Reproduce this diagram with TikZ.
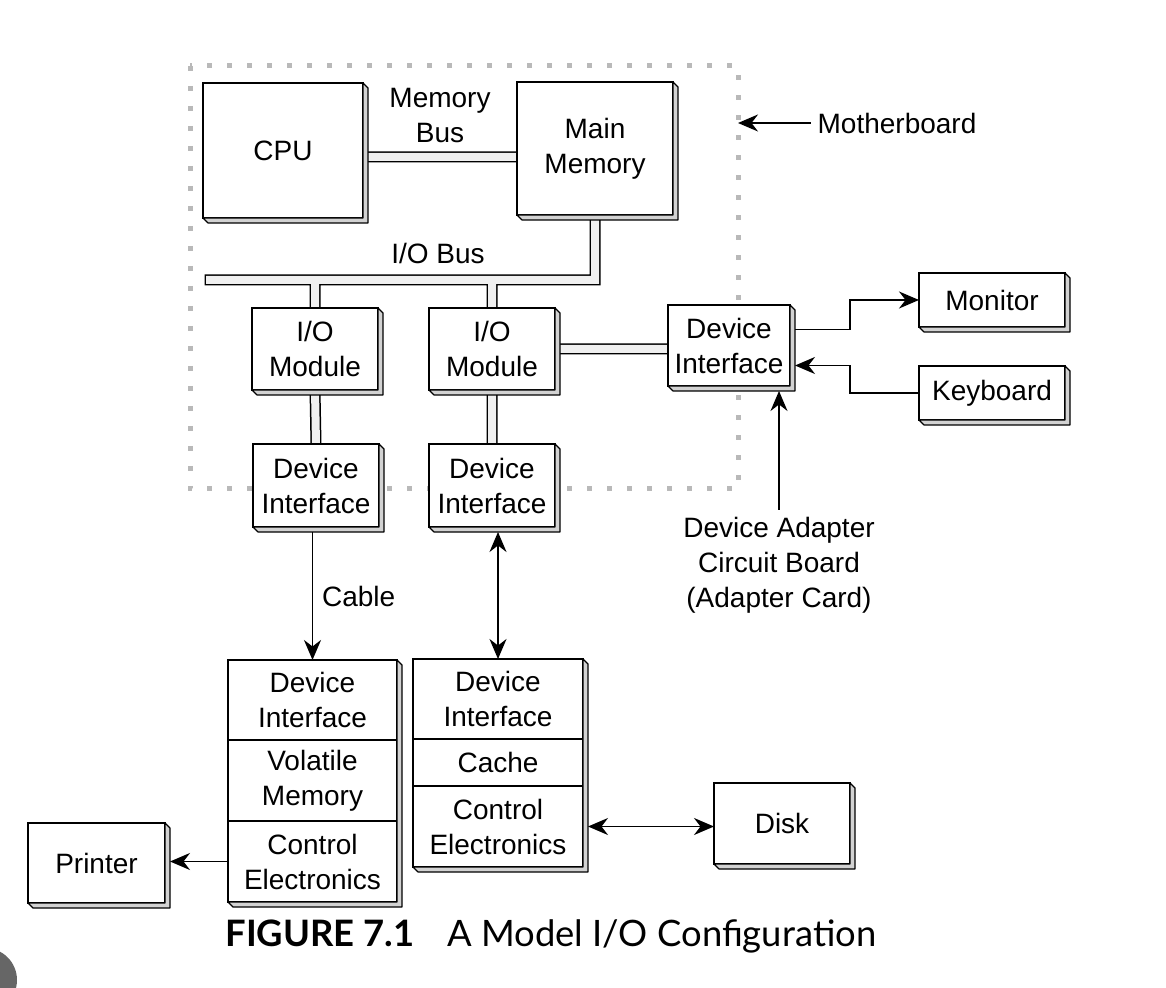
\documentclass[tikz,border=0pt]{standalone}
\usepackage{fontspec}
\setmainfont{Liberation Sans}
\newfontfamily\capfont{Lato}
\usetikzlibrary{arrows.meta, positioning, backgrounds}

\begin{document}
\begin{tikzpicture}[x=0.5pt, y=-0.5pt,
    every node/.style={font=\fontsize{14}{17.5}\selectfont},
    box/.style={draw, fill=white, line width=0.85pt, inner sep=0pt, outer sep=0pt, align=center},
    lbl/.style={align=center},
    slab/.style={draw, fill=gray!35, line width=0.6pt, line join=round},
    bus/.style={draw, line width=0.75pt, double=gray!12, double distance=4pt, line cap=rect, line join=miter},
    board/.style={draw=gray!55, line width=2.5pt, dash pattern=on 2.5pt off 7.5pt},
    arr/.style={-{Stealth[length=10pt, width=8.5pt]}, line width=0.9pt},
    arrs/.style={{Stealth[length=10pt, width=8.5pt]}-{Stealth[length=10pt, width=8.5pt]}, line width=0.9pt}]
    \useasboundingbox (0,0) rectangle (1166,988);

    % Reference points
    \coordinate (busL) at (210,280);
    \coordinate (mbl) at (440,157);
    \coordinate (mbR) at (738,66);

    % Motherboard parts
    \node[box, minimum width=80pt, minimum height=67.5pt] (cpu) at (283,150.5) {CPU};
    \node[box, minimum width=78pt, minimum height=66.5pt] (mem) at (595,148.5) {Main\\Memory};
    \node[box, minimum width=63pt, minimum height=41pt] (io1) at (315,349) {I/O\\Module};
    \node[box, minimum width=63pt, minimum height=41pt] (io2) at (492,349) {I/O\\Module};
    \node[box, minimum width=63pt, minimum height=41.5pt] (di1) at (316,485.5) {Device\\Interface};
    \node[box, minimum width=63pt, minimum height=41.5pt] (di2) at (492,485.5) {Device\\Interface};
    \node[box, minimum width=61pt, minimum height=40.5pt] (dia) at (729,345.5) {Device\\Interface};

    % Devices
    \node[box, minimum width=73pt, minimum height=27pt] (mon) at (992,300) {Monitor};
    \node[box, minimum width=73pt, minimum height=27pt] (kbd) at (992,393) {Keyboard};
    \node[box, minimum width=68.5pt, minimum height=40pt] (prn) at (96.5,863) {Printer};
    \node[box, minimum width=68pt, minimum height=40.5pt] (disk) at (782,823.5) {Disk};

    % Controller stacks
    \node[box, minimum width=84.5pt, minimum height=40pt] (s1a) at (312.5,700) {Device\\Interface};
    \node[box, minimum width=84.5pt, minimum height=40.5pt, below=0pt of s1a] (s1b) {Volatile\\Memory};
    \node[box, minimum width=84.5pt, minimum height=40.5pt, below=0pt of s1b] (s1c) {Control\\Electronics};
    \node[box, minimum width=85pt, minimum height=40pt] (s2a) at (498,699) {Device\\Interface};
    \node[box, minimum width=85pt, minimum height=23.5pt, below=0pt of s2a] (s2b) {Cache};
    \node[box, minimum width=85pt, minimum height=40.5pt, below=0pt of s2b] (s2c) {Control\\Electronics};

    % Labels
    \node[lbl] (memlbl) at (440,116) {Memory\\Bus};
    \node[lbl] (iolbl) at (438,253) {I/O Bus};
    \node[lbl] (mb) at (897,123) {Motherboard};
    \node[lbl] (adp) at (779,565) {Device Adapter\\Circuit Board\\(Adapter Card)};

    % Board outline and buses
    \begin{pgfonlayer}{background}
        \draw[board] (190,66) rectangle (738,489);
        \draw[bus] (cpu.east |- mbl) -- (mem.west |- mbl)
                   (busL) -| (mem.south)
                   (io1.north) -- (io1.north |- busL)
                   (io2.north) -- (io2.north |- busL)
                   (io1.south) -- (di1.north)
                   (io2.south) -- (di2.north)
                   (io2.east) -- (io2.east -| dia.west);
    \end{pgfonlayer}

    % Box depth
    \foreach \t/\b in {cpu/cpu, mem/mem, io1/io1, io2/io2, di1/di1, di2/di2, dia/dia, mon/mon, kbd/kbd, prn/prn, disk/disk, s1a/s1c, s2a/s2c}
        \filldraw[slab] (\t.north east) -- ++(2.5pt,-2.5pt) |- ([shift={(2.5pt,-2.5pt)}]\b.south west) -- (\b.south west) -- (\b.south east) -- cycle;

    % Arrows
    \draw[arr] ([shift={(2.5pt,8pt)}]dia.east) -- ++(27.5pt,0) |- (mon.west);
    \draw[arr] (kbd.west) -- ++(-34.5pt,0) |- ([shift={(2.5pt,-10pt)}]dia.east);
    \draw[arr] (adp.north) -- ([yshift=-2.5pt]adp.north |- dia.south);
    \draw[arr] (mb.west) -- (mb.west -| mbR);
    \draw[arr] ([yshift=-2.5pt]s1a.north |- di1.south) -- node[right=1pt] (cab) {Cable} (s1a.north);
    \draw[arrs] ([yshift=-2.5pt]s2a.north |- di2.south) -- (s2a.north);
    \draw[arr] (s1c.west) -- ([xshift=2.5pt]s1c.west -| prn.east);
    \draw[arrs] ([xshift=2.5pt]s2c.east) -- (s2c.east -| disk.west);

    % Caption
    \node[font=\capfont\fontsize{18.2}{22}\selectfont, anchor=base west, inner sep=0pt] (cap) at (225,946) {\textbf{FIGURE 7.1}\hspace{16.5pt}A Model I/O Configuration};

    % Page corner
    \begin{scope}
        \clip (0,0) rectangle (1166,988);
        \fill[black!60] (-15,980) circle[radius=16pt];
    \end{scope}
\end{tikzpicture}
\end{document}
